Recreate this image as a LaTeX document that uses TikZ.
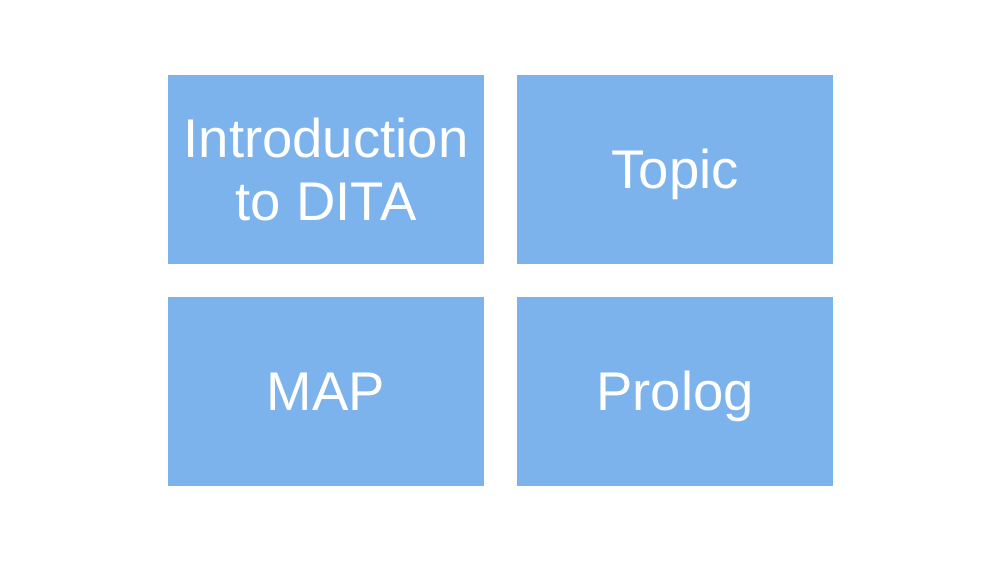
\documentclass[tikz,border=0pt]{standalone}
\usepackage{fontspec}
\setmainfont{Liberation Sans}
\definecolor{tileblue}{HTML}{7CB3EC}
\begin{document}
\begin{tikzpicture}[x=1pt,y=1pt,
    every node/.append style={fill=tileblue,text=white,minimum width=316pt,
      minimum height=189pt,inner sep=0pt,align=center,
      text height=39pt,text depth=0pt,
      font=\fontsize{54.5}{63}\selectfont}]
    \useasboundingbox (0,0) rectangle (1000,562);
    \node[text height=102pt] (intro) at (326,392.5) {Introduction\\to DITA};
    \node (topic)  at (675,392.5) {Topic};

    \node (map)    at (326,170.5) {MAP};
    \node (prolog) at (675,170.5) {Prolog};
\end{tikzpicture}
\end{document}
